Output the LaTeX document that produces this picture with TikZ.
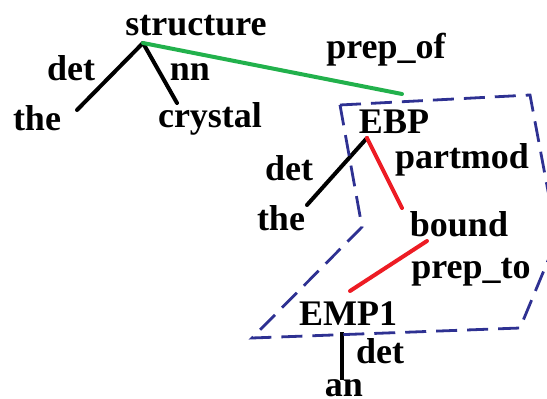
\documentclass[tikz,border=0pt]{standalone}
\usepackage{fontspec}
\setmainfont{Liberation Serif}
\usepackage{tikz}
\usetikzlibrary{positioning}
\definecolor{deplink}{HTML}{000000}
\definecolor{depgreen}{HTML}{22B14C}
\definecolor{depred}{HTML}{ED1C24}
\definecolor{depblue}{HTML}{2E3192}
\tikzstyle{dep} = [line width=4pt, line cap=round, deplink]

\begin{document}
\begin{tikzpicture}[x=1pt, y=-1pt,
  word/.style={anchor=base, inner sep=0pt, font=\fontsize{36}{40}\selectfont\bfseries},
  region/.style={depblue, line width=2.8pt, dash pattern=on 21pt off 10pt, line join=miter}]
\useasboundingbox (0,0) rectangle (547,399);

% words
\node[word] (structure) at (196,35) {structure};
\node[word] (the1) at (37,130) {the};
\node[word] (crystal) at (210,127) {crystal};
\node[word] (EBP) at (394,133) {EBP};
\node[word] (the2) at (281,230) {the};
\node[word] (bound) at (459,236) {bound};
\node[word] (EMP1) at (348,325) {EMP1};
\node[word] (an) at (344,396) {an};

% relation labels
\node[word] (det1) at (71,80) {det};
\node[word] (nn) at (190,80) {nn};
\node[word] (prepof) at (386,58) {prep\_of};
\node[word] (det2) at (289,180) {det};
\node[word] (partmod) at (462,168) {partmod};
\node[word] (prepto) at (471,278) {prep\_to};
\node[word] (det3) at (380,363) {det};

% dependencies
\draw[dep] ([shift={(-53,8)}]structure.base) -- ([shift={(40,-20)}]the1.base);
\draw[dep] ([shift={(-53,8)}]structure.base) -- ([shift={(-33,-24)}]crystal.base);
\draw[dep, depgreen] ([shift={(-53,8)}]structure.base) -- ([shift={(8,-39)}]EBP.base);
\draw[dep] ([shift={(-27,5)}]EBP.base) -- ([shift={(26,-25)}]the2.base);
\draw[dep, depred] ([shift={(-27,5)}]EBP.base) -- ([shift={(-57,-28)}]bound.base);
\draw[dep, depred] ([shift={(-32,5)}]bound.base) -- ([shift={(2,-34)}]EMP1.base);
\draw[dep, line cap=butt] ([shift={(-6,7)}]EMP1.base) -- ([shift={(-2,-16)}]an.base);

% entity region
\begin{scope}
\clip (0,0) rectangle (547,399);
\draw[region] (340,105) -- (530,95) -- (557,239) -- (520,328) -- (252,338) -- (362,227) -- cycle;
\end{scope}
\end{tikzpicture}
\end{document}
